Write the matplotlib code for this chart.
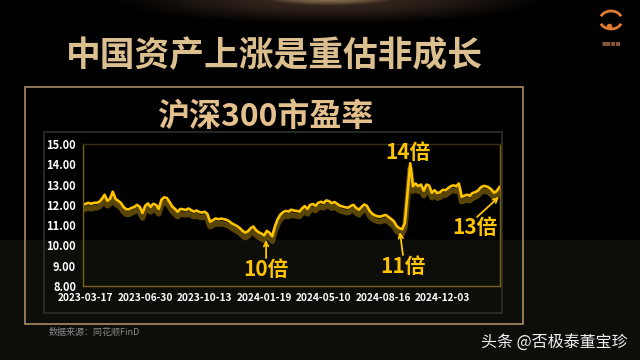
import numpy as np
import matplotlib
matplotlib.use("Agg")
import matplotlib.pyplot as plt
from matplotlib import transforms
from matplotlib.patches import Rectangle, Arc

plt.rcParams['font.family'] = ['Noto Sans CJK SC', 'DejaVu Sans']

# ---- data ----
title = "中国资产上涨是重估非成长"
subtitle = "沪深300市盈率"
source = "数据来源：同花顺FinD"
watermark = "头条 @否极泰董宝珍"
tick_labels = ["2023-03-17", "2023-06-30", "2023-10-13", "2024-01-19",
               "2024-05-10", "2024-08-16", "2024-12-03"]
y_ticks = [8, 9, 10, 11, 12, 13, 14, 15]
pe_values = [
    12.0, 12.05, 12.1, 12.05, 12.1, 12.1, 12.15, 12.3, 12.5, 12.2,
    12.3, 12.65, 12.3, 12.2, 12.1, 11.9, 11.78, 11.78, 11.85, 11.9,
    12.0, 11.9, 11.6, 11.95, 12.07, 11.9, 12.05, 12.0, 11.8, 12.25,
    12.37, 12.34, 12.15, 11.92, 11.8, 11.66, 11.8, 11.78, 11.75, 11.82,
    11.74, 11.67, 11.72, 11.65, 11.62, 11.66, 11.55, 11.17, 11.24, 11.33,
    11.29, 11.32, 11.3, 11.26, 11.2, 11.09, 11.02, 10.95, 10.85, 10.72,
    10.63, 10.7, 10.85, 10.93, 10.75, 10.65, 10.58, 10.5, 10.72, 10.62,
    10.45, 10.95, 11.3, 11.52, 11.64, 11.7, 11.67, 11.76, 11.72, 11.7,
    11.67, 11.82, 11.94, 11.8, 12.0, 12.04, 11.96, 12.1, 12.15, 12.1,
    12.22, 12.18, 12.08, 12.14, 12.05, 11.96, 11.92, 11.88, 11.86, 11.94,
    12.0, 11.85, 11.76, 11.9, 12.02, 11.95, 11.7, 11.56, 11.48, 11.43,
    11.42, 11.47, 11.5, 11.4, 11.3, 11.18, 10.95, 10.85, 10.8, 11.1,
    12.6, 14.05, 12.92, 13.05, 12.92, 13.0, 12.7, 13.0, 12.95, 12.6,
    12.72, 12.58, 12.62, 12.74, 12.72, 12.82, 12.92, 12.96, 12.92, 13.05,
    12.4, 12.45, 12.5, 12.45, 12.58, 12.62, 12.7, 12.85, 12.93, 12.92,
    12.86, 12.76, 12.6, 12.68, 12.88,
]
tick_every = 22
annotations = [("10倍", 67.7, 8.79), ("11倍", 118.3, 8.94),
               ("14倍", 120.2, 14.56), ("13倍", 145.0, 10.86)]

W, H = 640, 360
fig = plt.figure(figsize=(6.4, 3.6), dpi=100, facecolor='black')

# ---- background layer in pixel coordinates ----
bg = fig.add_axes([0, 0, 1, 1])
bg.axis('off')
bg.set_facecolor('black')
bg.add_patch(Rectangle((0, 240), W, 120, color='#0d0d09', zorder=0))

# top glow
gx, gy = np.meshgrid(np.linspace(0, W, 320), np.linspace(0, 40, 40))
d = ((gx - 330) / 230) ** 2 + ((gy + 2) / 28) ** 2
glow = np.clip(1 - d, 0, 1) ** 1.5
img = np.zeros(gx.shape + (4,))
img[..., 0] = 0.50
img[..., 1] = 0.36
img[..., 2] = 0.28
img[..., 3] = glow * 0.45
bg.imshow(img, extent=(0, W, 40, 0), zorder=1, aspect='auto')
d2 = ((gx - 330) / 70) ** 2 + ((gy + 4) / 9) ** 2
img2 = np.zeros(gx.shape + (4,))
img2[..., 0] = 1.0
img2[..., 1] = 0.85
img2[..., 2] = 0.6
img2[..., 3] = np.clip(1 - d2, 0, 1) * 0.45
bg.imshow(img2, extent=(0, W, 40, 0), zorder=1, aspect='auto')
bg.set_xlim(0, W)
bg.set_ylim(H, 0)

# logo
bg.add_patch(Arc((611, 20), 22, 18, theta1=200, theta2=340, color='#e07a30', lw=2, zorder=3))
bg.add_patch(Arc((611, 20), 22, 18, theta1=20, theta2=160, color='#e07a30', lw=2, zorder=3))
bg.plot([609], [26], 'o', color='#e07a30', ms=3, zorder=3)
bg.text(611, 44, "■■■■", color='#8a5a36', fontsize=3.5, ha='center', va='center', zorder=3)

# frames
bg.add_patch(Rectangle((25, 87), 498, 237, fill=False, ec='#a88a62', lw=1.2, zorder=2))
bg.add_patch(Rectangle((43.5, 132), 458.5, 181, fill=False, ec='#2e2e2a', lw=1.2, zorder=2))

# titles
bg.text(274, 56, title, color='#dcbf8e', fontsize=25, fontweight='bold',
        ha='center', va='center', zorder=3)
bg.text(265, 117, subtitle, color='#e3c08c', fontsize=23, fontweight='bold',
        ha='center', va='center', zorder=3)
bg.text(49, 332, source, color='#8a8a8a', fontsize=6.5, style='italic',
        ha='left', va='center', zorder=3)
bg.text(628, 342, watermark, color='#f0f0f0', fontsize=11.5,
        ha='right', va='center', zorder=3)

# ---- chart ----
x0, x1, y0, y1 = 83, 500, 144, 286
ax = fig.add_axes([x0 / W, 1 - y1 / H, (x1 - x0) / W, (y1 - y0) / H])
ax.set_facecolor('none')
idx = np.arange(len(pe_values))
ax.set_xlim(0, len(pe_values) - 0.8)
ax.set_ylim(8, 15)

shadow = transforms.offset_copy(ax.transData, fig=fig, x=0, y=-5, units='dots')
ax.plot(idx, pe_values, color='#6a5308', lw=4, alpha=0.85, transform=shadow,
        solid_joinstyle='round')
ax.plot(idx, pe_values, color='#ffc400', lw=1.9, solid_joinstyle='round')

for s in ax.spines.values():
    s.set_color('#7a6118')
    s.set_linewidth(1.0)
ax.spines['top'].set_color('#3a3010')

tick_pos = [1 + tick_every * k for k in range(len(tick_labels))]
ax.set_xticks(tick_pos)
ax.set_xticklabels(tick_labels)
ax.set_yticks(y_ticks)
ax.set_yticklabels([f"{v:.2f}" for v in y_ticks])
ax.tick_params(axis='both', length=0, colors='white')
ax.tick_params(axis='x', pad=5)
ax.tick_params(axis='y', pad=5)
for lab in ax.get_xticklabels():
    lab.set_fontweight('bold')
    lab.set_fontsize(7.3)
for lab in ax.get_yticklabels():
    lab.set_fontweight('bold')
    lab.set_fontsize(8)

gold = '#ffc400'
for txt, xi, yv in annotations:
    ax.text(xi, yv, txt, color=gold, fontsize=15, fontweight='bold',
            ha='center', va='center', clip_on=False)

arrows = [((67.7, 9.38), (67.7, 10.27)),
          ((118.3, 9.53), (117.2, 10.66)),
          ((145.7, 11.4), (153.8, 12.39))]
for start, end in arrows:
    ax.annotate('', xy=end, xytext=start,
                arrowprops=dict(arrowstyle='->', color=gold, lw=1.3,
                                shrinkA=0, shrinkB=0, mutation_scale=8),
                annotation_clip=False)

fig.savefig('out.png', dpi=100, facecolor='black')
